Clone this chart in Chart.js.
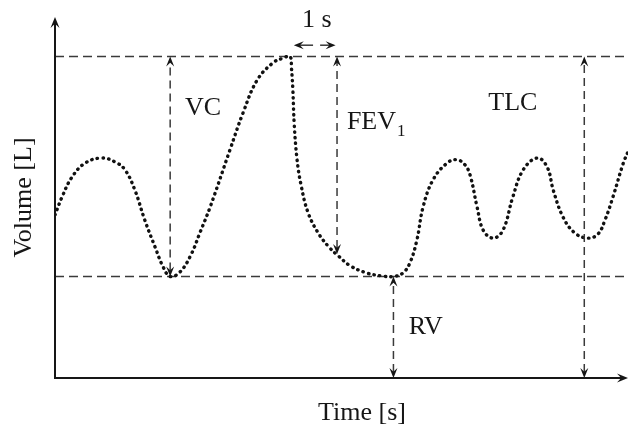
<!DOCTYPE html>
<html>
<head>
<meta charset="utf-8">
<script src="https://cdn.jsdelivr.net/npm/chart.js@4.4.1/dist/chart.umd.min.js"></script>
<style>
  html, body { margin: 0; padding: 0; background: #fff; }
  #wrap { width: 628px; height: 431px; position: relative; }
</style>
</head>
<body>
<div id="wrap"><canvas id="spiro"></canvas></div>
<script>
'use strict';

// Spirogram trace: time [s] against lung volume [L]
const timeS = [
  0, 0.15, 0.36, 0.64, 1.00, 1.28, 1.49, 1.70, 1.91, 2.13, 2.30, 2.45,
  2.66, 2.89, 3.09, 3.30, 3.72, 4.00, 4.30, 4.64, 4.85, 5.00,
  5.03, 5.06, 5.09, 5.15, 5.23, 5.38, 5.60, 5.83, 6.02, 6.28, 6.64, 6.95, 7.20,
  7.40, 7.55, 7.70, 7.83, 8.04, 8.34, 8.55, 8.72, 8.83, 8.98, 9.11, 9.32,
  9.53, 9.74, 9.96, 10.26, 10.47, 10.60, 10.81, 11.06, 11.34, 11.55, 11.70,
  11.87, 12.09, 12.19,
];
const volumeL = [
  2.89, 3.21, 3.56, 3.81, 3.90, 3.83, 3.69, 3.33, 2.80, 2.32, 1.97, 1.80,
  1.88, 2.18, 2.59, 3.03, 4.04, 4.70, 5.28, 5.59, 5.67, 5.70,
  5.50, 5.11, 4.49, 3.87, 3.44, 2.94, 2.57, 2.32, 2.17, 1.99, 1.86, 1.81, 1.80,
  1.86, 2.04, 2.45, 3.03, 3.51, 3.81, 3.87, 3.78, 3.60, 3.03, 2.62, 2.48,
  2.62, 3.21, 3.69, 3.90, 3.74, 3.33, 2.85, 2.57, 2.48, 2.55, 2.80,
  3.21, 3.81, 4.01,
];

const TLC = 5.7;   // total lung capacity level
const RV  = 1.8;   // residual volume level
const T_MAX = 12.19;
const V_MAX = 6.4;

// vertical dimension arrows (time, volume at each end)
const arrowTimes = [2.45, 6.0, 7.2, 11.26];
const arrowFrom  = [RV, 2.2, 0, 0];
const arrowTo    = [TLC, TLC, RV, TLC];

// "1 s" interval arrows: [tail, head] in seconds, drawn at one level
const secArrows = [[5.49, 5.08], [5.64, 5.97]];
const secLevel  = 5.9;

const labelText = ['VC', 'FEV', 'TLC', 'RV', '1 s'];
const labelT    = [3.15, 6.21, 9.74, 7.89, 5.57];
const labelV    = [4.79, 4.54, 4.88, 0.90, 6.35];

const FONT = '"Liberation Serif", "Times New Roman", serif';
const INK = '#161616';
const DASH_INK = '#3a3a3a';

function arrowHead(ctx, x, y, angle, len, half) {
  ctx.save();
  ctx.translate(x, y);
  ctx.rotate(angle);
  ctx.beginPath();
  ctx.moveTo(0, 0);
  ctx.lineTo(-len, -half);
  ctx.lineTo(-len * 0.62, 0);
  ctx.lineTo(-len, half);
  ctx.closePath();
  ctx.fill();
  ctx.restore();
}

const annotations = {
  id: 'annotations',
  afterDatasetsDraw(chart) {
    const { ctx, chartArea: a, scales: { x, y } } = chart;
    ctx.save();

    // axes with arrow tips
    ctx.strokeStyle = INK;
    ctx.fillStyle = INK;
    ctx.lineWidth = 2;
    ctx.setLineDash([]);
    ctx.beginPath();
    ctx.moveTo(a.left, a.top + 4);
    ctx.lineTo(a.left, a.bottom);
    ctx.lineTo(a.right - 4, a.bottom);
    ctx.stroke();
    arrowHead(ctx, a.left, a.top, -Math.PI / 2, 11, 4.5);
    arrowHead(ctx, a.right, a.bottom, 0, 11, 4.5);

    // dashed vertical arrows
    ctx.strokeStyle = DASH_INK;
    ctx.fillStyle = INK;
    ctx.lineWidth = 1.5;
    arrowTimes.forEach((t, i) => {
      const px = x.getPixelForValue(t);
      const y0 = y.getPixelForValue(arrowFrom[i]);
      const y1 = y.getPixelForValue(arrowTo[i]);
      ctx.setLineDash([8, 5]);
      ctx.beginPath();
      ctx.moveTo(px, y0 - 6);
      ctx.lineTo(px, y1 + 6);
      ctx.stroke();
      arrowHead(ctx, px, y0, Math.PI / 2, 10, 4);
      arrowHead(ctx, px, y1, -Math.PI / 2, 10, 4);
    });

    // 1 s interval arrows
    const sy = y.getPixelForValue(secLevel);
    ctx.setLineDash([]);
    secArrows.forEach(([tail, head]) => {
      const x0 = x.getPixelForValue(tail);
      const x1 = x.getPixelForValue(head);
      const ang = x1 > x0 ? 0 : Math.PI;
      ctx.beginPath();
      ctx.moveTo(x0, sy);
      ctx.lineTo(x1 - Math.sign(x1 - x0) * 5, sy);
      ctx.stroke();
      arrowHead(ctx, x1, sy, ang, 10, 4);
    });

    // labels
    ctx.fillStyle = INK;
    ctx.textBaseline = 'middle';
    labelText.forEach((txt, i) => {
      const px = x.getPixelForValue(labelT[i]);
      const py = y.getPixelForValue(labelV[i]);
      ctx.font = '26px ' + FONT;
      if (txt === 'FEV') {
        ctx.textAlign = 'left';
        ctx.fillText(txt, px, py);
        const w = ctx.measureText(txt).width;
        ctx.font = '17px ' + FONT;
        ctx.fillText('1', px + w + 1, py + 10);
      } else {
        ctx.textAlign = 'center';
        ctx.fillText(txt, px, py);
      }
    });

    // axis titles
    ctx.font = '26px ' + FONT;
    ctx.textAlign = 'center';
    ctx.fillText('Time [s]', a.left + 307, a.bottom + 35);
    ctx.save();
    ctx.translate(a.left - 31, (a.top + a.bottom) / 2);
    ctx.rotate(-Math.PI / 2);
    ctx.fillText('Volume [L]', 0, 0);
    ctx.restore();

    ctx.restore();
  },
};

const trace = timeS.map((t, i) => ({ x: t, y: volumeL[i] }));
const levelLine = v => [{ x: 0, y: v }, { x: T_MAX, y: v }];

new Chart(document.getElementById('spiro'), {
  type: 'scatter',
  data: {
    datasets: [
      {
        label: 'Volume',
        data: trace,
        showLine: true,
        borderColor: '#111',
        borderWidth: 3.4,
        borderDash: [0.4, 5.3],
        borderCapStyle: 'round',
        tension: 0.4,
        pointRadius: 0,
        order: 0,
      },
      {
        label: 'TLC',
        data: levelLine(TLC),
        showLine: true,
        borderColor: DASH_INK,
        borderWidth: 1.5,
        borderDash: [9, 5],
        pointRadius: 0,
        order: 1,
      },
      {
        label: 'RV',
        data: levelLine(RV),
        showLine: true,
        borderColor: DASH_INK,
        borderWidth: 1.5,
        borderDash: [9, 5],
        pointRadius: 0,
        order: 1,
      },
    ],
  },
  options: {
    responsive: true,
    maintainAspectRatio: false,
    animation: false,
    layout: { padding: { left: 55, right: 0, top: 17, bottom: 53 } },
    plugins: {
      legend: { display: false },
      tooltip: { enabled: false },
    },
    scales: {
      x: { type: 'linear', min: 0, max: T_MAX, display: false },
      y: { type: 'linear', min: 0, max: V_MAX, display: false },
    },
  },
  plugins: [annotations],
});
</script>
</body>
</html>
